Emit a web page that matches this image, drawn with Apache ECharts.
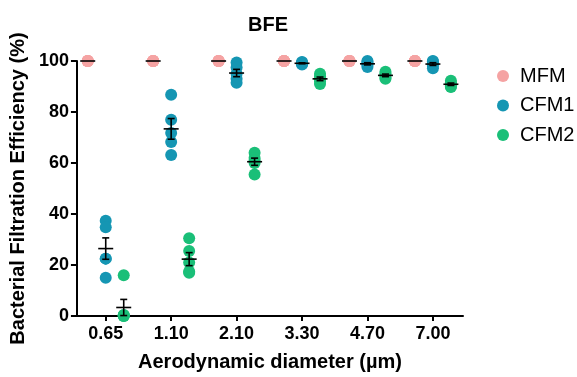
<!DOCTYPE html>
<html>
<head>
<meta charset="utf-8">
<script src="https://cdn.jsdelivr.net/npm/echarts@6/dist/echarts.min.js"></script>
<style>html,body{margin:0;padding:0;background:#fff}#chart{width:577px;height:377px}</style>
</head>
<body>
<div id="chart"></div>
<script>
// ---- data ----
const categories = ['0.65', '1.10', '2.10', '3.30', '4.70', '7.00'];
const yTicks = [0, 20, 40, 60, 80, 100];
const seriesNames = ['MFM', 'CFM1', 'CFM2'];
const mfmValues = [
  [100, 100, 100, 100, 100],
  [100, 100, 100, 100, 100],
  [100, 100, 100, 100, 100],
  [100, 100, 100, 100, 100],
  [100, 100, 100, 100, 100],
  [100, 100, 100, 100, 100]
];
const cfm1Values = [
  [37.4, 34.8, 22.5, 22.5, 15.0],
  [86.8, 77.0, 71.8, 68.2, 63.1],
  [99.4, 97.5, 95.0, 93.0, 91.5],
  [99.6, 99.4, 99.1, 98.8, 98.6],
  [100, 99.6, 98.9, 98.4, 97.6],
  [100, 99.8, 99.0, 98.0, 97.2]
];
const cfm2Values = [
  [16.0, 0.4, 0.0, 0.0, 0.3],
  [30.5, 25.5, 21.0, 17.5, 17.0],
  [64.0, 62.0, 61.0, 60.0, 55.5],
  [95.0, 94.0, 93.0, 92.0, 91.0],
  [95.8, 95.0, 94.5, 93.5, 93.0],
  [92.3, 91.5, 90.8, 90.0, 89.8]
];

// ---- styles ----
const colors = ['#F5A3A3', '#1596B3', '#1ABF78'];
const groupOffsetPx = [-18, 0, 18];
const FONT = '"Liberation Sans", Arial, Helvetica, sans-serif';

function meanSem(arr) {
  const n = arr.length;
  const m = arr.reduce((a, b) => a + b, 0) / n;
  const v = arr.reduce((a, b) => a + (b - m) * (b - m), 0) / (n - 1);
  return [m, Math.sqrt(v) / Math.sqrt(n)];
}

const allValues = [mfmValues, cfm1Values, cfm2Values];
const series = [];
allValues.forEach((vals, si) => {
  const pts = [];
  vals.forEach((group, ci) => group.forEach(v => pts.push([ci, v])));
  series.push({
    name: seriesNames[si],
    type: 'scatter',
    data: pts,
    symbol: 'circle',
    symbolSize: 12,
    symbolOffset: [groupOffsetPx[si], 0],
    itemStyle: { color: colors[si], opacity: 1 },
    z: 2,
    silent: true
  });
});
allValues.forEach((vals, si) => {
  const stats = vals.map((group, ci) => { const s = meanSem(group); return [ci, s[0], s[1]]; });
  const off = groupOffsetPx[si];
  series.push({
    name: seriesNames[si] + ' mean',
    type: 'custom',
    data: stats,
    z: 5,
    silent: true,
    renderItem: function (params, api) {
      const ci = api.value(0), m = api.value(1), s = api.value(2);
      const c = api.coord([ci, m]);
      const t = api.coord([ci, m + s]);
      const b = api.coord([ci, m - s]);
      const x = c[0] + off;
      const st = { stroke: '#000', lineWidth: 1.6 };
      const children = [
        { type: 'line', shape: { x1: x - 7.5, y1: c[1], x2: x + 7.5, y2: c[1] }, style: st }
      ];
      if (s > 0) {
        children.push({ type: 'line', shape: { x1: x, y1: t[1], x2: x, y2: b[1] }, style: st });
        children.push({ type: 'line', shape: { x1: x - 3.5, y1: t[1], x2: x + 3.5, y2: t[1] }, style: st });
        children.push({ type: 'line', shape: { x1: x - 3.5, y1: b[1], x2: x + 3.5, y2: b[1] }, style: st });
      }
      return { type: 'group', children: children };
    }
  });
});

const chart = echarts.init(document.getElementById('chart'), null, { renderer: 'canvas' });
chart.setOption({
  animation: false,
  backgroundColor: '#fff',
  title: {
    text: 'BFE',
    left: 263, top: 10,
    textAlign: 'center',
    textStyle: { fontFamily: FONT, fontWeight: 'bold', fontSize: 20, color: '#000' }
  },
  legend: {
    data: seriesNames,
    orient: 'vertical',
    left: 492, top: 61,
    icon: 'circle',
    itemWidth: 24, itemHeight: 12,
    itemGap: 9.5,
    selectedMode: false,
    textStyle: { fontFamily: FONT, fontSize: 20, color: '#000' }
  },
  grid: { left: 76, right: 114, top: 61, bottom: 59, containLabel: false },
  xAxis: {
    type: 'value',
    min: -0.44, max: 5.46,
    name: 'Aerodynamic diameter (µm)',
    nameLocation: 'middle',
    nameGap: 36,
    nameTextStyle: { fontFamily: FONT, fontWeight: 'bold', fontSize: 20, color: '#000' },
    axisLine: { show: true, onZero: false, lineStyle: { color: '#000', width: 2 } },
    axisTick: { show: true, customValues: categories.map((c, i) => i), length: 5, lineStyle: { color: '#000', width: 2 } },
    axisLabel: {
      customValues: categories.map((c, i) => i),
      formatter: v => categories[Math.round(v)],
      margin: 9,
      fontFamily: FONT, fontWeight: 'bold', fontSize: 18, color: '#000'
    },
    splitLine: { show: false }
  },
  yAxis: {
    type: 'value',
    min: 0, max: 100, interval: 20,
    name: 'Bacterial Filtration Efficiency (%)',
    nameLocation: 'middle',
    nameGap: 37,
    nameTextStyle: { fontFamily: FONT, fontWeight: 'bold', fontSize: 20, color: '#000' },
    axisLine: { show: true, onZero: false, lineStyle: { color: '#000', width: 2 } },
    axisTick: { show: true, length: 6, lineStyle: { color: '#000', width: 2 } },
    axisLabel: {
      margin: 8,
      formatter: v => (yTicks.indexOf(v) >= 0 ? String(v) : ''),
      fontFamily: FONT, fontWeight: 'bold', fontSize: 18, color: '#000'
    },
    splitLine: { show: false }
  },
  series: series
});
</script>
</body>
</html>
